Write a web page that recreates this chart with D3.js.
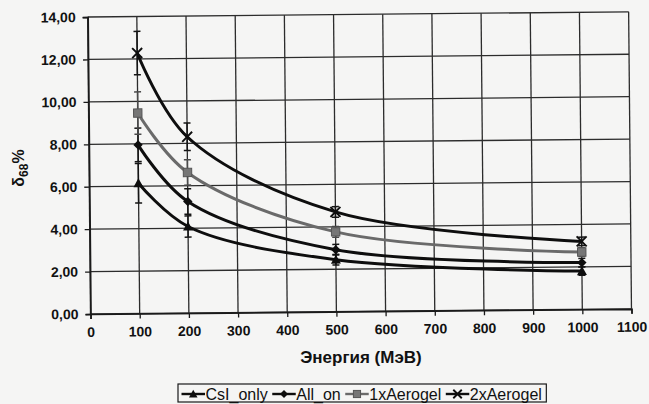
<!DOCTYPE html>
<html>
<head>
<meta charset="utf-8">
<script src="https://cdn.jsdelivr.net/npm/d3@7"></script>
<style>
  html, body { margin: 0; padding: 0; background: #f5f5f4; }
  svg { display: block; }
  text { font-family: "Liberation Sans", Arial, sans-serif; fill: #111; }
</style>
</head>
<body>
<svg id="chart" width="649" height="404"></svg>
<script>
// Energies (MeV) and angular resolution δ68 (%) for each configuration
const energies = [100, 200, 500, 1000];
const csiOnly   = [6.14, 4.08, 2.45, 1.80];
const allOn     = [7.95, 5.26, 2.92, 2.20];
const aerogel1x = [9.45, 6.63, 3.76, 2.70];
const aerogel2x = [12.28, 8.31, 4.70, 3.20];

// Symmetric error bar half-widths
const csiOnlyErr   = [0.93, 0.50, 0.25, 0.20];
const allOnErr     = [0.79, 0.60, 0.25, 0.20];
const aerogel1xErr = [1.00, 0.60, 0.25, 0.20];
const aerogel2xErr = [1.02, 0.65, 0.25, 0.20];

const seriesNames = ["CsI_only", "All_on", "1xAerogel", "2xAerogel"];
const xTickValues = [0, 100, 200, 300, 400, 500, 600, 700, 800, 900, 1000, 1100];
const yTickValues = [0, 2, 4, 6, 8, 10, 12, 14];
const xTitle = "Энергия (МэВ)";

const series = [
  { name: seriesNames[0], values: csiOnly,   err: csiOnlyErr,   color: "#0e0e0e", marker: "triangle" },
  { name: seriesNames[1], values: allOn,     err: allOnErr,     color: "#0e0e0e", marker: "diamond" },
  { name: seriesNames[2], values: aerogel1x, err: aerogel1xErr, color: "#6a6a6a", marker: "square" },
  { name: seriesNames[3], values: aerogel2x, err: aerogel2xErr, color: "#0e0e0e", marker: "cross" }
];

const svg = d3.select("#chart");
const plot = { left: 90.5, right: 631.5, top: 17, bottom: 314 };

const x = d3.scaleLinear().domain([0, 1100]).range([plot.left, plot.right]);
const y = d3.scaleLinear().domain([0, 14]).range([plot.bottom, plot.top]);

const locale = d3.formatLocale({ decimal: ",", thousands: " ", grouping: [3], currency: ["", ""] });
const fmtY = locale.format(".2f");

// The plotting frame sits slightly tilted on the page
const g = svg.append("g")
  .attr("transform", `rotate(-0.55 ${plot.left} ${plot.bottom})`);

// Grid
g.append("g").selectAll("line").data(yTickValues).join("line")
  .attr("x1", plot.left).attr("x2", plot.right)
  .attr("y1", d => y(d)).attr("y2", d => y(d))
  .attr("stroke", "#2c2c2c").attr("stroke-width", 1.3);
g.append("g").selectAll("line").data(xTickValues).join("line")
  .attr("y1", plot.top).attr("y2", plot.bottom)
  .attr("x1", d => x(d)).attr("x2", d => x(d))
  .attr("stroke", "#2c2c2c").attr("stroke-width", 1.3);

// Axes
const xAxis = d3.axisBottom(x).tickValues(xTickValues).tickSize(5).tickPadding(8).tickFormat(d3.format("d"));
const yAxis = d3.axisLeft(y).tickValues(yTickValues).tickSize(5).tickPadding(7).tickFormat(fmtY);

const gx = g.append("g").attr("transform", `translate(0,${plot.bottom})`).call(xAxis);
const gy = g.append("g").attr("transform", `translate(${plot.left},0)`).call(yAxis);
[gx, gy].forEach(a => {
  a.select(".domain").attr("stroke", "#1a1a1a").attr("stroke-width", 1.7);
  a.selectAll(".tick line").attr("stroke", "#1a1a1a").attr("stroke-width", 1.3);
  a.selectAll(".tick text")
    .style("font-family", '"Liberation Sans", Arial, sans-serif')
    .style("font-size", "14px").style("font-weight", "bold").attr("fill", "#111");
});

// Error bars
const capHalf = 3.5;
series.forEach(s => {
  const eg = g.append("g");
  energies.forEach((e, i) => {
    const v = s.values[i], d = s.err[i];
    const col = s.marker === "square" ? "#4a4a4a" : "#151515";
    eg.append("line").attr("x1", x(e)).attr("x2", x(e))
      .attr("y1", y(v - d)).attr("y2", y(v + d))
      .attr("stroke", col).attr("stroke-width", 1.5);
    [v - d, v + d].forEach(t => {
      eg.append("line").attr("x1", x(e) - capHalf).attr("x2", x(e) + capHalf)
        .attr("y1", y(t)).attr("y2", y(t))
        .attr("stroke", col).attr("stroke-width", 1.5);
    });
  });
});

// Smoothed lines
const line = d3.line()
  .x((d, i) => x(energies[i]))
  .y(d => y(d))
  .curve(d3.curveCatmullRom.alpha(0.5));

series.forEach(s => {
  g.append("path").datum(s.values)
    .attr("d", line)
    .attr("fill", "none")
    .attr("stroke", s.color)
    .attr("stroke-width", 3)
    .attr("stroke-linecap", "round");
});

// Marker drawing
function drawMarker(sel, type, cx, cy, scale) {
  const k = scale || 1;
  if (type === "triangle") {
    const s = 5 * k;
    sel.append("path")
      .attr("d", `M${cx},${cy - s} L${cx + s},${cy + s * 0.8} L${cx - s},${cy + s * 0.8} Z`)
      .attr("fill", "#0e0e0e");
  } else if (type === "diamond") {
    const s = 4.7 * k;
    sel.append("path")
      .attr("d", `M${cx},${cy - s} L${cx + s},${cy} L${cx},${cy + s} L${cx - s},${cy} Z`)
      .attr("fill", "#0e0e0e");
  } else if (type === "square") {
    const s = 4.2 * k;
    sel.append("rect").attr("x", cx - s).attr("y", cy - s)
      .attr("width", 2 * s).attr("height", 2 * s)
      .attr("fill", "#767676").attr("stroke", "#555").attr("stroke-width", 1);
  } else if (type === "cross") {
    const s = 5 * k;
    sel.append("path")
      .attr("d", `M${cx - s},${cy - s} L${cx + s},${cy + s} M${cx - s},${cy + s} L${cx + s},${cy - s}`)
      .attr("stroke", "#0e0e0e").attr("stroke-width", 1.9).attr("fill", "none");
  }
}

series.forEach(s => {
  const mg = g.append("g");
  energies.forEach((e, i) => drawMarker(mg, s.marker, x(e), y(s.values[i])));
});

// Axis titles
svg.append("text")
  .attr("x", (plot.left + plot.right) / 2).attr("y", 363)
  .attr("text-anchor", "middle")
  .style("font-size", "17px").style("font-weight", "bold")
  .text(xTitle);

const yt = svg.append("text")
  .attr("transform", "translate(24,168) rotate(-90)")
  .attr("text-anchor", "middle")
  .style("font-size", "16px").style("font-weight", "bold");
yt.append("tspan").text("δ");
yt.append("tspan").attr("dy", 4).style("font-size", "12px").text("68");
yt.append("tspan").attr("dy", -4).text("%");

// Legend
const legend = svg.append("g");
const legendLeft = 178, legendTop = 384, legendBottom = 402, legendMid = 394;
let cursor = legendLeft + 3.5;
series.forEach(s => {
  const eg = legend.append("g");
  eg.append("line").attr("x1", cursor).attr("x2", cursor + 23.5)
    .attr("y1", legendMid).attr("y2", legendMid)
    .attr("stroke", s.color).attr("stroke-width", 2.4);
  drawMarker(eg, s.marker, cursor + 11.75, legendMid, 0.85);
  const t = eg.append("text").attr("x", cursor + 24).attr("y", legendMid + 5.6)
    .style("font-size", "16px").text(s.name);
  cursor += 24 + t.node().getComputedTextLength() + 4.5;
});
legend.insert("rect", ":first-child")
  .attr("x", legendLeft).attr("y", legendTop)
  .attr("width", cursor - legendLeft).attr("height", legendBottom - legendTop)
  .attr("fill", "none").attr("stroke", "#1a1a1a").attr("stroke-width", 1.2);
</script>
</body>
</html>
